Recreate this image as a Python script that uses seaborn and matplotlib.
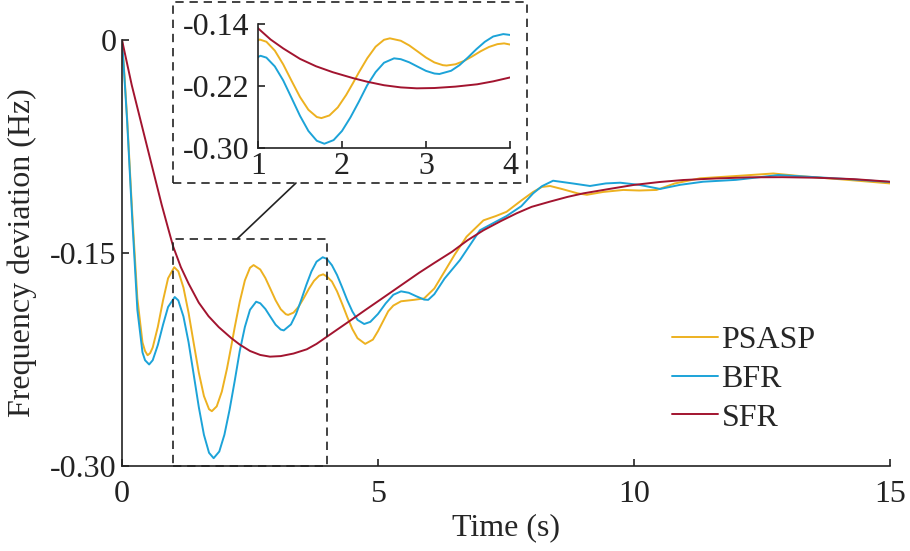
import numpy as np
import pandas as pd
import matplotlib
matplotlib.use("Agg")
import matplotlib.pyplot as plt
from matplotlib.patches import Rectangle, ConnectionPatch
import seaborn as sns

# values (time in s, deviation in Hz)
psasp_t = [0, 0.05, 0.1, 0.2, 0.3, 0.4, 0.45, 0.5, 0.55, 0.6, 0.7, 0.8, 0.9, 1.02, 1.1,
           1.2, 1.3, 1.4, 1.5, 1.6, 1.7, 1.755, 1.85, 1.95, 2.05, 2.13, 2.2, 2.3, 2.4, 2.5,
           2.57, 2.7, 2.8, 2.9, 3.0, 3.1, 3.2, 3.245, 3.35, 3.45, 3.55, 3.65, 3.75, 3.85,
           3.93, 4.0, 4.1, 4.2, 4.3, 4.4, 4.5, 4.6, 4.75, 4.9, 5.0, 5.1, 5.2, 5.3, 5.45,
           5.7, 5.9, 6.1, 6.3, 6.5, 6.73, 7.06, 7.3, 7.51, 7.8, 8.03, 8.2, 8.36, 8.6, 8.9,
           9.08, 9.4, 9.79, 10.1, 10.44, 10.8, 11.29, 11.9, 12.72, 13.3, 14.0, 15.0]
psasp_f = [0, -0.026, -0.055, -0.122, -0.182, -0.213, -0.219, -0.222, -0.2205, -0.2165,
           -0.202, -0.1836, -0.1678, -0.160, -0.1629, -0.1743, -0.1921, -0.2134, -0.2342,
           -0.2507, -0.2600, -0.2614, -0.258, -0.2476, -0.2315, -0.2164, -0.2026, -0.1843,
           -0.1693, -0.1604, -0.1585, -0.1616, -0.1676, -0.1754, -0.1833, -0.1896, -0.1931,
           -0.1936, -0.1920, -0.1878, -0.1818, -0.1752, -0.1696, -0.1660, -0.1650, -0.1665,
           -0.1701, -0.1770, -0.1858, -0.1951, -0.2036, -0.2100, -0.2140, -0.2110, -0.2050,
           -0.1980, -0.1910, -0.1870, -0.1840, -0.1830, -0.1820, -0.1750, -0.1630, -0.1510,
           -0.1385, -0.1270, -0.1240, -0.1210, -0.1130, -0.1070, -0.1035, -0.1028, -0.1050,
           -0.1080, -0.1090, -0.1070, -0.1056, -0.1060, -0.1056, -0.1010, -0.0974, -0.0960,
           -0.0940, -0.0960, -0.0980, -0.1010]

bfr_t = [0, 0.05, 0.1, 0.2, 0.3, 0.4, 0.45, 0.53, 0.6, 0.7, 0.8, 0.9, 1.03, 1.1, 1.2, 1.3,
         1.4, 1.5, 1.6, 1.7, 1.79, 1.9, 2.0, 2.1, 2.2, 2.3, 2.4, 2.5, 2.62, 2.7, 2.8, 2.9,
         3.0, 3.1, 3.16, 3.3, 3.4, 3.5, 3.6, 3.7, 3.8, 3.92, 4.0, 4.1, 4.2, 4.3, 4.4, 4.5,
         4.6, 4.73, 4.85, 5.0, 5.15, 5.3, 5.45, 5.6, 5.75, 5.9, 5.98, 6.1, 6.3, 6.6, 6.99,
         7.3, 7.51, 7.8, 8.03, 8.2, 8.42, 8.8, 9.14, 9.45, 9.73, 10.1, 10.51, 10.9, 11.35,
         11.99, 12.82, 13.5, 14.2, 15.0]
bfr_f = [0, -0.028, -0.057, -0.126, -0.190, -0.220, -0.2255, -0.2285, -0.2255, -0.2148,
         -0.2007, -0.188, -0.181, -0.1834, -0.1947, -0.2128, -0.2355, -0.2585, -0.278,
         -0.2907, -0.2945, -0.2898, -0.278, -0.2606, -0.2404, -0.219, -0.2021, -0.190,
         -0.1843, -0.1854, -0.1894, -0.195, -0.2005, -0.2039, -0.2045, -0.2003, -0.193,
         -0.1831, -0.1725, -0.163, -0.1561, -0.1530, -0.1541, -0.1586, -0.1655, -0.1742,
         -0.1833, -0.1912, -0.1971, -0.2000, -0.1985, -0.1929, -0.1855, -0.1794, -0.1770,
         -0.1780, -0.1805, -0.1828, -0.1830, -0.1790, -0.1680, -0.1550, -0.1340, -0.1280,
         -0.1240, -0.1170, -0.1080, -0.1030, -0.0991, -0.1010, -0.1028, -0.1010, -0.1005,
         -0.1020, -0.1049, -0.1020, -0.0998, -0.0985, -0.0951, -0.0965, -0.0980, -0.1000]

sfr_t = [0, 0.19, 0.385, 0.58, 0.775, 0.9, 1.0, 1.15, 1.3, 1.5, 1.69, 1.89, 2.13, 2.3,
         2.5, 2.7, 2.89, 3.1, 3.35, 3.61, 3.8, 3.98, 4.2, 4.45, 4.75, 5.04, 5.4, 5.8, 6.1,
         6.45, 6.75, 7.06, 7.4, 7.71, 8.0, 8.36, 8.7, 9.01, 9.5, 9.99, 10.5, 10.96, 11.6,
         12.27, 12.9, 13.57, 14.3, 15.0]
sfr_f = [0, -0.0317, -0.0599, -0.088, -0.116, -0.1325, -0.1455, -0.1600, -0.1715, -0.1850,
         -0.1945, -0.2022, -0.2098, -0.2145, -0.2190, -0.2218, -0.2230, -0.2226, -0.2208,
         -0.2178, -0.2140, -0.2095, -0.2040, -0.1978, -0.1902, -0.1830, -0.1740, -0.1640,
         -0.1570, -0.1490, -0.1410, -0.1340, -0.1275, -0.1220, -0.1175, -0.1138, -0.1105,
         -0.1080, -0.1050, -0.1021, -0.1000, -0.0986, -0.0975, -0.0967, -0.0966, -0.0970,
         -0.0980, -0.0998]

models = ["PSASP", "BFR", "SFR"]
colors = {"PSASP": "#EDB120", "BFR": "#1CA3D8", "SFR": "#A2142F"}

main_xticks = [0, 5, 10, 15]
main_yticks = [0, -0.15, -0.30]
main_ylabels = ["0", "-0.15", "-0.30"]
zoom_xticks = [1, 2, 3, 4]
zoom_yticks = [-0.14, -0.22, -0.30]
zoom_ylabels = ["-0.14", "-0.22", "-0.30"]

df = pd.concat([
    pd.DataFrame({"t": psasp_t, "f": psasp_f, "model": "PSASP"}),
    pd.DataFrame({"t": bfr_t, "f": bfr_f, "model": "BFR"}),
    pd.DataFrame({"t": sfr_t, "f": sfr_f, "model": "SFR"}),
], ignore_index=True)

sns.set_style("ticks")
plt.rcParams["font.family"] = ["Liberation Serif", "DejaVu Serif"]
plt.rcParams["font.size"] = 23
plt.rcParams["axes.linewidth"] = 1.2
plt.rcParams["lines.solid_joinstyle"] = "round"


def style_axes(ax, xt, yt, ylabels, pad_x, pad_y):
    ax.set_xticks(xt)
    ax.set_xticklabels([str(v) for v in xt])
    ax.set_yticks(yt)
    ax.set_yticklabels(ylabels)
    ax.tick_params(axis="both", direction="in", length=5, width=1.2, colors="#222222",
                   labelsize=23)
    ax.tick_params(axis="x", pad=pad_x)
    ax.tick_params(axis="y", pad=pad_y)
    sns.despine(ax=ax)
    for s in ("left", "bottom"):
        ax.spines[s].set_color("#222222")


fig = plt.figure(figsize=(9.1, 5.51), dpi=100)
ax = fig.add_axes([122 / 910, 1 - 466 / 551, 768 / 910, 426 / 551])
sns.lineplot(data=df, x="t", y="f", hue="model", hue_order=models, palette=colors,
             estimator=None, sort=False, linewidth=1.4, ax=ax)
ax.set_xlim(0, 15)
ax.set_ylim(-0.30, 0)
style_axes(ax, main_xticks, main_yticks, main_ylabels, 10, 4)
ax.set_xlabel("Time (s)", fontsize=23, labelpad=3)
ax.set_ylabel("Frequency deviation (Hz)", fontsize=23, labelpad=9)

ax.legend(handles=ax.get_legend_handles_labels()[0], labels=models, frameon=False,
          loc="center left", bbox_to_anchor=(672 / 910, 1 - 379 / 551),
          bbox_transform=fig.transFigure, handlelength=1.45, handletextpad=0.1,
          borderpad=0, borderaxespad=0, labelspacing=0.3, fontsize=23)

# inset
axin = fig.add_axes([258 / 910, 1 - 148 / 551, 252 / 910, 124 / 551])
sns.lineplot(data=df, x="t", y="f", hue="model", hue_order=models, palette=colors,
             estimator=None, sort=False, linewidth=1.4, ax=axin, legend=False)
axin.set_xlim(zoom_xticks[0], zoom_xticks[-1])
axin.set_ylim(zoom_yticks[-1], zoom_yticks[0])
style_axes(axin, zoom_xticks, zoom_yticks, zoom_ylabels, 3, 6)
axin.set_xlabel("")
axin.set_ylabel("")
axin.patch.set_alpha(0)

# dashed zoom region in the main axes
ax.add_patch(Rectangle((zoom_xticks[0], zoom_yticks[-1]),
                       zoom_xticks[-1] - zoom_xticks[0], zoom_yticks[0] - zoom_yticks[-1],
                       fill=False, ls=(0, (5, 3.5)), lw=1.2, ec="#222222", clip_on=False,
                       zorder=5))
# dashed frame around the inset
fig.add_artist(Rectangle((173 / 910, 1 - 183 / 551), 354 / 910, 181 / 551,
                         transform=fig.transFigure, fill=False, ls=(0, (5, 3.5)),
                         lw=1.2, ec="#222222"))
con = ConnectionPatch(xyA=(2.25, zoom_yticks[0]), coordsA=ax.transData,
                      xyB=(296 / 910, 1 - 183 / 551), coordsB=fig.transFigure,
                      color="#222222", lw=1.2)
fig.add_artist(con)

fig.savefig("out.png", dpi=100)
